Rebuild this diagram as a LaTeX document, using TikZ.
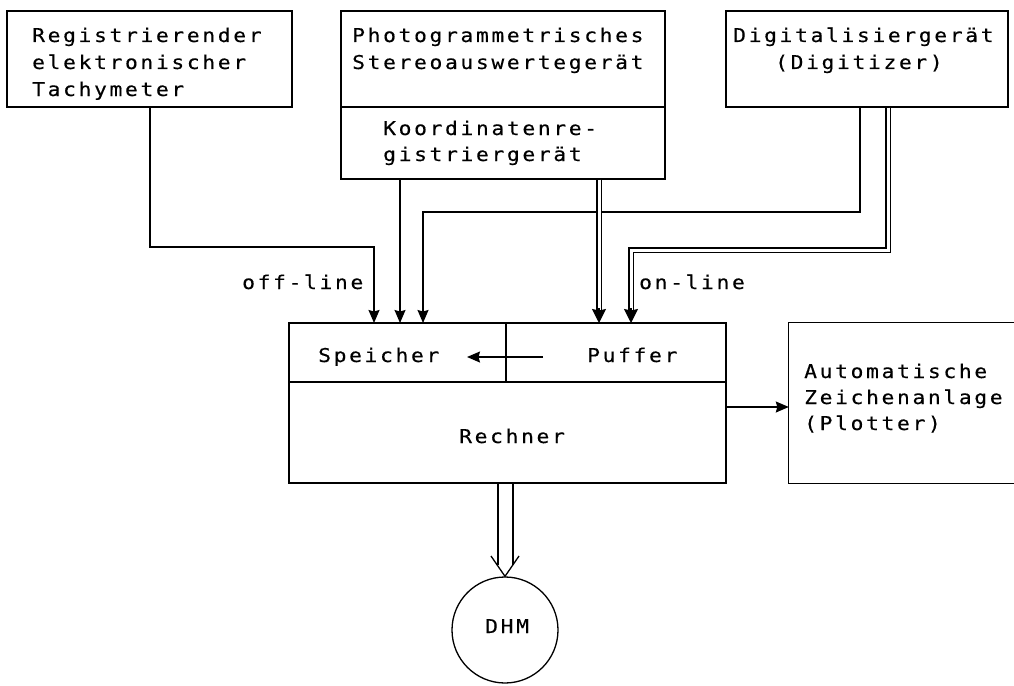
\documentclass[tikz,border=0pt]{standalone}
\usepackage{fontspec}
\newfontfamily\tw[LetterSpace=14,FakeStretch=1.12,FakeBold=0.35]{DejaVu Sans Mono}
\usetikzlibrary{arrows.meta,calc}
\begin{document}
\begin{tikzpicture}[x=1pt,y=-1pt,
  box/.style={draw,line width=1.3pt,inner sep=0pt,rectangle},
  txt/.style={anchor=base west,inner sep=0pt,font={\tw\fontsize{19}{22}\selectfont}},
  ln/.style={line width=1.3pt},
  arr/.style={ln,-{Stealth[length=13pt,width=11pt,inset=1.5pt]}},
  barr/.style={ln,-{Stealth[length=14pt,width=14pt,inset=1.5pt]}},
  dbl/.style={line width=1.2pt,double,double distance=3pt}]
\useasboundingbox (0,0) rectangle (1014,685);
% boxes
\node[box,minimum width=285pt,minimum height=96pt] (tachy) at (149.5,59) {};
\node[box,minimum width=324pt,minimum height=96pt] (photo) at (503,59) {};
\node[box,minimum width=324pt,minimum height=72pt] (koord) at (503,143) {};
\node[box,minimum width=282pt,minimum height=96pt] (digi) at (867,59) {};
\node[box,minimum width=217pt,minimum height=59pt] (speicher) at (397.5,352.5) {};
\node[box,minimum width=220pt,minimum height=59pt] (puffer) at (616,352.5) {};
\node[box,minimum width=437pt,minimum height=101pt] (rechner) at (507.5,432.5) {};
\node[minimum width=241pt,minimum height=160pt,inner sep=0pt] (plotter) at (909.5,403) {};
\draw[ln] (plotter.north east) -- (plotter.north west) -- (plotter.south west) -- (plotter.south east);
\node[draw,circle,line width=1.3pt,minimum size=106pt,inner sep=0pt] (dhm) at (505,630) {};
% texts
\node[txt] (t1a) at (32,42) {Registrierender};
\node[txt] (t1b) at (32,69) {elektronischer};
\node[txt] (t1c) at (32,96) {Tachymeter};
\node[txt] (t2a) at (352,42) {Photogrammetrisches};
\node[txt] (t2b) at (352,69) {Stereoauswertegerät};
\node[txt] (t3a) at (383,135) {Koordinatenre-};
\node[txt] (t3b) at (383,161) {gistriergerät};
\node[txt] (t4a) at (733,42) {Digitalisiergerät};
\node[txt] (t4b) at (775,69) {(Digitizer)};
\node[txt] (t5) at (318,362) {Speicher};
\node[txt] (t6) at (587,362) {Puffer};
\node[txt] (t7) at (459,443) {Rechner};
\node[txt] (t8a) at (804,378) {Automatische};
\node[txt] (t8b) at (804,404) {Zeichenanlage};
\node[txt] (t8c) at (804,430) {(Plotter)};
\node[txt] (t9) at (485,633) {DHM};
\node[txt] (off) at (242,289) {off-line};
\node[txt] (on) at (639,289) {on-line};
% connectors
\coordinate (c1) at (150,247);
\coordinate (s1) at (374,323);
\draw[arr] (tachy.south -| c1) -- (c1) -- (c1 -| s1) -- (s1);
\coordinate (s2) at (400,323);
\draw[arr] (koord.south -| s2) -- (s2);
\coordinate (d1) at (860,212);
\coordinate (s3) at (423,323);
\draw[arr] (digi.south -| d1) -- (d1) -- (d1 -| s3) -- (s3);
\coordinate (p1) at (599,323);
\draw[dbl,shorten >=11pt] (koord.south -| p1) -- (p1);
\draw[barr] ($(p1)+(0,-15)$) -- (p1);
\coordinate (d2) at (888,250);
\coordinate (p2) at (631,323);
\draw[dbl,shorten >=11pt] (digi.south -| d2) -- (d2) -- (d2 -| p2) -- (p2);
\draw[barr] ($(p2)+(0,-15)$) -- (p2);
\coordinate (q1) at (543,357);
\coordinate (q2) at (467,357);
\draw[arr] (q1) -- (q2);
\coordinate (r1) at (726,407);
\draw[arr] (r1) -- (r1 -| plotter.west);
% hollow arrow to DHM
\coordinate (h1) at (498,483);
\coordinate (h2) at (513,483);
\coordinate (h3) at (498,565);
\coordinate (h4) at (513,565);
\coordinate (v1) at (491,556);
\coordinate (v2) at (519,556);
\draw[ln] (h1) -- (h3);
\draw[ln] (h2) -- (h4);
\draw[ln,line join=miter] (v1) -- (dhm.north) -- (v2);
\end{tikzpicture}
\end{document}
